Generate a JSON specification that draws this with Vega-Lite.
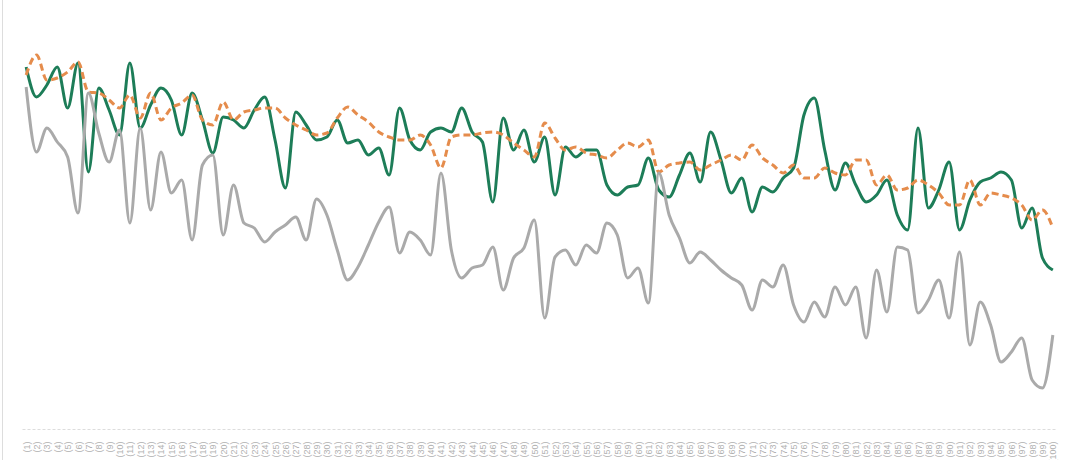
{
  "$schema": "https://vega.github.io/schema/vega-lite/v6.json",
  "autosize": {"type": "none"},
  "padding": {"left": 2, "top": -3, "right": 0, "bottom": 0},
  "width": 1073,
  "height": 480,
  "background": "white",
  "config": {"view": {"stroke": "#dddddd", "strokeWidth": 1}},
  "data": {"values": [
    {"x":"(1)","g":363,"o":355,"k":343},
    {"x":"(2)","g":333,"o":375,"k":278},
    {"x":"(3)","g":345,"o":350,"k":302},
    {"x":"(4)","g":363,"o":352,"k":288},
    {"x":"(5)","g":322,"o":358,"k":273},
    {"x":"(6)","g":367,"o":368,"k":217},
    {"x":"(7)","g":258,"o":338,"k":337},
    {"x":"(8)","g":342,"o":337,"k":297},
    {"x":"(9)","g":320,"o":330,"k":268},
    {"x":"(10)","g":295,"o":322,"k":300},
    {"x":"(11)","g":367,"o":335,"k":207},
    {"x":"(12)","g":302,"o":312,"k":302},
    {"x":"(13)","g":325,"o":337,"k":220},
    {"x":"(14)","g":342,"o":310,"k":278},
    {"x":"(15)","g":330,"o":322,"k":237},
    {"x":"(16)","g":295,"o":327,"k":250},
    {"x":"(17)","g":337,"o":335,"k":190},
    {"x":"(18)","g":310,"o":310,"k":265},
    {"x":"(19)","g":277,"o":305,"k":275},
    {"x":"(20)","g":313,"o":328,"k":195},
    {"x":"(21)","g":310,"o":310,"k":245},
    {"x":"(22)","g":302,"o":318,"k":207},
    {"x":"(23)","g":320,"o":320,"k":202},
    {"x":"(24)","g":333,"o":322,"k":188},
    {"x":"(25)","g":290,"o":322,"k":198},
    {"x":"(26)","g":242,"o":312,"k":205},
    {"x":"(27)","g":318,"o":305,"k":213},
    {"x":"(28)","g":305,"o":300,"k":190},
    {"x":"(29)","g":290,"o":295,"k":231},
    {"x":"(30)","g":293,"o":297,"k":215},
    {"x":"(31)","g":310,"o":312,"k":180},
    {"x":"(32)","g":287,"o":323,"k":150},
    {"x":"(33)","g":290,"o":315,"k":163},
    {"x":"(34)","g":275,"o":308,"k":185},
    {"x":"(35)","g":282,"o":298,"k":208},
    {"x":"(36)","g":255,"o":293,"k":223},
    {"x":"(37)","g":322,"o":290,"k":177},
    {"x":"(38)","g":290,"o":290,"k":198},
    {"x":"(39)","g":280,"o":295,"k":190},
    {"x":"(40)","g":298,"o":285,"k":175},
    {"x":"(41)","g":302,"o":262,"k":257},
    {"x":"(42)","g":298,"o":293,"k":180},
    {"x":"(43)","g":322,"o":295,"k":152},
    {"x":"(44)","g":298,"o":295,"k":162},
    {"x":"(45)","g":288,"o":297,"k":165},
    {"x":"(46)","g":228,"o":298,"k":183},
    {"x":"(47)","g":312,"o":295,"k":140},
    {"x":"(48)","g":280,"o":287,"k":172},
    {"x":"(49)","g":300,"o":280,"k":182},
    {"x":"(50)","g":268,"o":273,"k":210},
    {"x":"(51)","g":293,"o":307,"k":112},
    {"x":"(52)","g":235,"o":292,"k":173},
    {"x":"(53)","g":283,"o":280,"k":180},
    {"x":"(54)","g":273,"o":283,"k":165},
    {"x":"(55)","g":280,"o":277,"k":185},
    {"x":"(56)","g":280,"o":275,"k":177},
    {"x":"(57)","g":245,"o":272,"k":207},
    {"x":"(58)","g":235,"o":280,"k":195},
    {"x":"(59)","g":243,"o":287,"k":152},
    {"x":"(60)","g":245,"o":283,"k":162},
    {"x":"(61)","g":272,"o":290,"k":127},
    {"x":"(62)","g":240,"o":258,"k":257},
    {"x":"(63)","g":233,"o":265,"k":215},
    {"x":"(64)","g":255,"o":267,"k":192},
    {"x":"(65)","g":277,"o":268,"k":167},
    {"x":"(66)","g":248,"o":260,"k":178},
    {"x":"(67)","g":298,"o":265,"k":170},
    {"x":"(68)","g":270,"o":270,"k":160},
    {"x":"(69)","g":237,"o":275,"k":152},
    {"x":"(70)","g":252,"o":270,"k":145},
    {"x":"(71)","g":218,"o":285,"k":120},
    {"x":"(72)","g":243,"o":272,"k":150},
    {"x":"(73)","g":238,"o":265,"k":143},
    {"x":"(74)","g":252,"o":257,"k":165},
    {"x":"(75)","g":262,"o":265,"k":125},
    {"x":"(76)","g":315,"o":252,"k":108},
    {"x":"(77)","g":332,"o":252,"k":128},
    {"x":"(78)","g":280,"o":262,"k":113},
    {"x":"(79)","g":240,"o":257,"k":143},
    {"x":"(80)","g":267,"o":255,"k":125},
    {"x":"(81)","g":245,"o":270,"k":143},
    {"x":"(82)","g":228,"o":270,"k":92},
    {"x":"(83)","g":235,"o":245,"k":160},
    {"x":"(84)","g":250,"o":255,"k":118},
    {"x":"(85)","g":215,"o":240,"k":183},
    {"x":"(86)","g":200,"o":242,"k":180},
    {"x":"(87)","g":302,"o":250,"k":117},
    {"x":"(88)","g":222,"o":245,"k":130},
    {"x":"(89)","g":240,"o":237,"k":150},
    {"x":"(90)","g":268,"o":225,"k":112},
    {"x":"(91)","g":200,"o":225,"k":178},
    {"x":"(92)","g":230,"o":250,"k":85},
    {"x":"(93)","g":248,"o":225,"k":128},
    {"x":"(94)","g":252,"o":237,"k":105},
    {"x":"(95)","g":258,"o":235,"k":68},
    {"x":"(96)","g":250,"o":232,"k":78},
    {"x":"(97)","g":202,"o":225,"k":92},
    {"x":"(98)","g":222,"o":210,"k":50},
    {"x":"(99)","g":172,"o":220,"k":42},
    {"x":"(100)","g":160,"o":202,"k":95}
  ]},
  "encoding": {
    "x": {
      "field": "x", "type": "nominal", "sort": null,
      "scale": {"type": "point", "range": [20, 1055], "padding": 0.4},
      "axis": {
        "title": null, "offset": -48, "ticks": false,
        "domainColor": "#dddddd", "domainDash": [3, 2], "domainWidth": 1,
        "labelAngle": -90, "labelFontSize": 9, "labelColor": "#b0b0b0",
        "labelPadding": 12, "labelOverlap": false, "grid": false
      }
    }
  },
  "layer": [
    {
      "mark": {"type": "line", "interpolate": "monotone", "color": "#1d7d58", "strokeWidth": 3},
      "encoding": {"y": {"field": "g", "type": "quantitative", "scale": {"domain": [-47, 433], "nice": false, "zero": false}, "axis": null}}
    },
    {
      "mark": {"type": "line", "interpolate": "monotone", "color": "#e58c4c", "strokeWidth": 3, "strokeDash": [7, 4]},
      "encoding": {"y": {"field": "o", "type": "quantitative", "scale": {"domain": [-47, 433], "nice": false, "zero": false}, "axis": null}}
    },
    {
      "mark": {"type": "line", "interpolate": "monotone", "color": "#aaaaaa", "strokeWidth": 3},
      "encoding": {"y": {"field": "k", "type": "quantitative", "scale": {"domain": [-47, 433], "nice": false, "zero": false}, "axis": null}}
    }
  ]
}
